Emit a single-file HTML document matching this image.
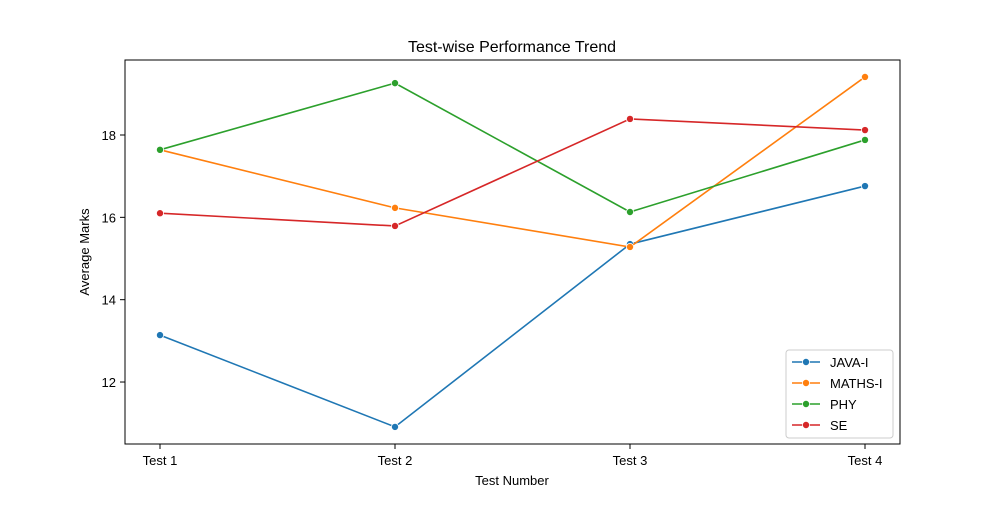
<!DOCTYPE html>
<html><head><meta charset="utf-8"><style>
body{margin:0;background:#fff;font-family:"Liberation Sans","DejaVu Sans",sans-serif;}
svg text{font-family:"Liberation Sans","DejaVu Sans",sans-serif;}
</style></head><body>
<svg id="chart" width="1000" height="500" xmlns="http://www.w3.org/2000/svg">
<rect width="1000" height="500" fill="#fff"/>
<text x="512" y="52" font-size="16" text-anchor="middle">Test-wise Performance Trend</text>
<text x="512" y="485" font-size="13" text-anchor="middle">Test Number</text>
<text transform="translate(89,252) rotate(-90)" font-size="13" text-anchor="middle">Average Marks</text>
<g id="marks"></g>
<rect x="125" y="60" width="775" height="384" fill="none" stroke="#000" stroke-width="1"/>
</svg>
<script>
const categories = ["Test 1","Test 2","Test 3","Test 4"];
const seriesNames = ["JAVA-I","MATHS-I","PHY","SE"];
const colors = ["#1f77b4","#ff7f0e","#2ca02c","#d62728"];
const javaVals = [13.14,10.91,15.35,16.76];
const mathsVals = [17.64,16.23,15.28,19.41];
const phyVals = [17.64,19.26,16.13,17.88];
const seVals = [16.1,15.79,18.39,18.12];
const yTicks = [12,14,16,18];
const allSeries = [javaVals,mathsVals,phyVals,seVals];

const NS="http://www.w3.org/2000/svg";
const svg=document.getElementById('chart');
const g=document.getElementById('marks');
function xPos(i){return 160+i*235;}
function yPos(v){return 135+(18-v)*41.17;}
function mk(tag,attrs,parent){const e=document.createElementNS(NS,tag);for(const k in attrs)e.setAttribute(k,attrs[k]);(parent||g).appendChild(e);return e;}

categories.forEach((c,i)=>{
  const t=mk('line',{x1:xPos(i),x2:xPos(i),y1:444,y2:449,stroke:'#000'});
  
  
  const l=mk('text',{x:xPos(i),y:465,'font-size':13,'text-anchor':'middle'});
  l.textContent=c;
  
  
});
yTicks.forEach(v=>{
  const t=mk('line',{x1:120,x2:125,y1:yPos(v),y2:yPos(v),stroke:'#000'});
  
  
  const l=mk('text',{x:116,y:yPos(v)+5,'font-size':13,'text-anchor':'end'});
  l.textContent=v;
  
  
});
allSeries.forEach((vals,s)=>{
  const p=mk('polyline',{points:vals.map((v,i)=>xPos(i)+','+yPos(v)).join(' '),fill:'none',stroke:colors[s],'stroke-width':1.6});
  
  
  vals.forEach((v,i)=>{
    const c=mk('circle',{cx:xPos(i),cy:yPos(v),r:3.6,fill:colors[s],stroke:'#fff','stroke-width':0.8});
    
    
  });
});
const lg=mk('g',{});


mk('rect',{x:786,y:350,width:107,height:88,rx:3,fill:'#fff',stroke:'#ccc'},lg);
seriesNames.forEach((n,s)=>{
  const y=362+s*21;
  const e=mk('g',{},lg);
  
  
  mk('line',{x1:792,x2:820,y1:y,y2:y,stroke:colors[s],'stroke-width':1.6},e);
  mk('circle',{cx:806,cy:y,r:3.6,fill:colors[s],stroke:'#fff','stroke-width':0.8},e);
  const t=mk('text',{x:830,y:y+5,'font-size':13},e);
  t.textContent=n;
});
</script>
</body></html>
